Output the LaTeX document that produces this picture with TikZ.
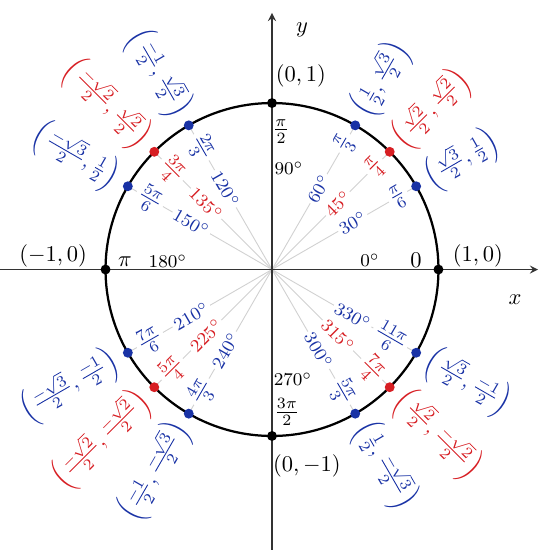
\documentclass[tikz,border=0pt]{standalone}
\usepackage{amsmath}
\definecolor{cblue}{RGB}{25,50,165}
\definecolor{cred}{RGB}{215,30,35}
\begin{document}
\begin{tikzpicture}[>=stealth,x=2.6cm,y=2.6cm,declare function={xmin=-1.634;xmax=1.670;ymin=-1.685;ymax=1.619;}]
	\useasboundingbox (xmin,ymin) rectangle (xmax,ymax);
	\foreach \a in {30,45,60,120,135,150,210,225,240,300,315,330}
		\draw[black!18] (0,0) -- (\a:1);
	\draw[->,black!80,line width=0.6pt] (xmin,0) -- (1.598,0);
	\draw[->,black!80,line width=0.6pt] (0,ymin) -- (0,1.541);
	\draw (1.46,-0.183) node {$x$}
		(0.18,1.438) node {$y$};
	\draw[line width=1pt] (0,0) circle (1);
	\foreach \a/\rad/\pt/\col in {
		30/{\frac{\pi}{6}}/{\frac{\sqrt{3}}{2},\frac{1}{2}}/cblue,
		45/{\frac{\pi}{4}}/{\frac{\sqrt{2}}{2},\frac{\sqrt{2}}{2}}/cred,
		60/{\frac{\pi}{3}}/{\frac{1}{2},\frac{\sqrt{3}}{2}}/cblue,
		300/{\frac{5\pi}{3}}/{\frac{1}{2},\frac{-\sqrt{3}}{2}}/cblue,
		315/{\frac{7\pi}{4}}/{\frac{\sqrt{2}}{2},\frac{-\sqrt{2}}{2}}/cred,
		330/{\frac{11\pi}{6}}/{\frac{\sqrt{3}}{2},\frac{-1}{2}}/cblue}
	{
		\node[\col,fill=white,inner sep=1pt,rotate=\a] at (\a:0.56) {\footnotesize $\a^\circ$};
		\node[\col,fill=white,inner sep=1pt,rotate=\a,anchor=east] at (\a:0.94) {$\rad$};
		\node[\col,inner sep=1pt,rotate=\a,anchor=west] at (\a:1.06) {$\left(\pt\right)$};
		\fill[\col] (\a:1) circle (2.2pt);
	}
	\foreach \a/\rad/\pt/\col in {
		120/{\frac{2\pi}{3}}/{\frac{-1}{2},\frac{\sqrt{3}}{2}}/cblue,
		135/{\frac{3\pi}{4}}/{\frac{-\sqrt{2}}{2},\frac{\sqrt{2}}{2}}/cred,
		150/{\frac{5\pi}{6}}/{\frac{-\sqrt{3}}{2},\frac{1}{2}}/cblue,
		210/{\frac{7\pi}{6}}/{\frac{-\sqrt{3}}{2},\frac{-1}{2}}/cblue,
		225/{\frac{5\pi}{4}}/{\frac{-\sqrt{2}}{2},\frac{-\sqrt{2}}{2}}/cred,
		240/{\frac{4\pi}{3}}/{\frac{-1}{2},\frac{-\sqrt{3}}{2}}/cblue}
	{
		\node[\col,fill=white,inner sep=1pt,rotate=\a-180] at (\a:0.56) {\footnotesize $\a^\circ$};
		\node[\col,fill=white,inner sep=1pt,rotate=\a-180,anchor=west] at (\a:0.94) {$\rad$};
		\node[\col,inner sep=1pt,rotate=\a-180,anchor=east] at (\a:1.06) {$\left(\pt\right)$};
		\fill[\col] (\a:1) circle (2.2pt);
	}
	\foreach \a in {0,90,180,270}
		\fill (\a:1) circle (2.2pt);
	\draw 
	(1.237,0.081) node {$(1,0)$}
	(-1.315,0.081) node {$(-1,0)$}
	(0.174,1.163) node {$(0,1)$}
	(0.21,-1.18) node {$(0,-1)$}
	(0.865,0.057) node {$0$}
	(-0.883,0.05) node {$\pi$}
	(0.054,0.83) node {$\frac{\pi}{2}$}
	(0.09,-0.856) node {$\frac{3\pi}{2}$}
	(0.589,0.057) node {\footnotesize $0^\circ$}
	(-0.625,0.05) node {\footnotesize $180^\circ$}
	(0.102,0.61) node {\footnotesize $90^\circ$}
	(0.126,-0.658) node {\footnotesize $270^\circ$}
	;
\end{tikzpicture}
\end{document}
